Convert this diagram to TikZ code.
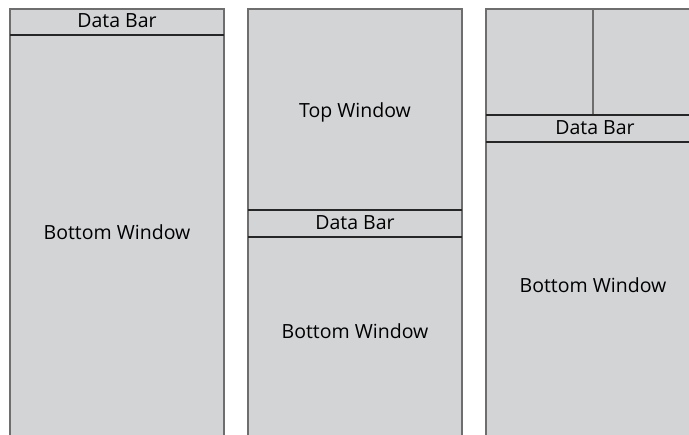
\documentclass[tikz,border=0pt]{standalone}
\usepackage{fontspec}
\setmainfont{Open Sans}
\usepackage{xcolor}
\usetikzlibrary{positioning}
\definecolor{panelgray}{HTML}{D3D4D6}
\definecolor{edgegray}{HTML}{6E6E6E}
\tikzset{
  panel/.style={fill=panelgray, draw=edgegray, line width=1.6pt},
  divider/.style={draw=black!85, line width=1.3pt},
  label/.style={font=\fontsize{19.5}{21}\selectfont, text=black, inner sep=1pt}
}

\begin{document}
\begin{tikzpicture}[x=1pt, y=-1pt]
\useasboundingbox (0,0) rectangle (689,435);
% left: data bar over one big window
\fill[panelgray] (10,9) rectangle (224,435);
\draw[panel, fill=none] (10,435) -- (10,9) -- (224,9) -- (224,435);
\draw[divider] (10,35) -- (224,35);
\node[label] (barA) at (117,21) {Data Bar};
\node[label] (botA) at (117,232) {Bottom Window};
% middle: top window, data bar, bottom window
\fill[panelgray] (248,9) rectangle (462,435);
\draw[panel, fill=none] (248,435) -- (248,9) -- (462,9) -- (462,435);
\draw[divider] (248,210) -- (462,210);
\draw[divider] (248,237) -- (462,237);
\node[label] (topB) at (355,112) {Top Window};
\node[label] (barB) at (355,223) {Data Bar};
\node[label] (botB) at (355,331) {Bottom Window};
% right: two small windows above the data bar
\fill[panelgray] (486,9) rectangle (700,435);
\draw[panel, fill=none] (486,435) -- (486,9) -- (700,9);
\draw[panel, fill=none] (593,9) -- (593,115);
\draw[divider] (486,115) -- (700,115);
\draw[divider] (486,142) -- (700,142);
\node[label] (barC) at (595,128) {Data Bar};
\node[label] (botC) at (593,285) {Bottom Window};
\end{tikzpicture}
\end{document}
